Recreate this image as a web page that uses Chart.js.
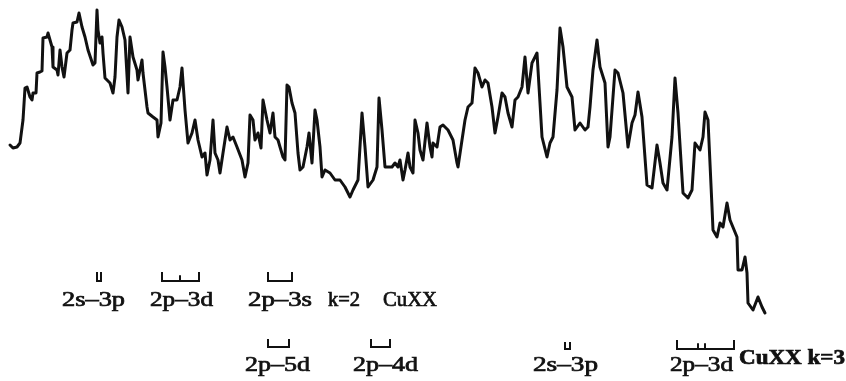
<!DOCTYPE html>
<html>
<head>
<meta charset="utf-8">
<script src="https://cdn.jsdelivr.net/npm/chart.js@4.4.1/dist/chart.umd.min.js"></script>
<style>
  html, body { margin: 0; padding: 0; background: #fff; }
  #wrap { width: 846px; height: 381px; }
</style>
</head>
<body>
<div id="wrap"><canvas id="spectrum"></canvas></div>
<script>
// densitogram trace: position along plate / blackening depth
const position = [
  10, 13, 17, 20, 23, 25, 27, 30, 32, 33, 36, 37, 40, 42, 43, 47, 48, 50, 52, 53,
  57, 58, 60, 62, 64, 67, 70, 72, 73, 77, 79, 82, 85, 88, 93, 95, 97, 98, 100, 102,
  103, 105, 110, 113, 115, 117, 119, 122, 125, 128, 130, 133, 137, 138, 142, 143, 147, 148, 153, 157,
  158, 161, 163, 165, 167, 170, 173, 177, 180, 182, 185, 188, 192, 195, 198, 202, 205, 207, 210, 213,
  215, 218, 220, 223, 227, 230, 233, 237, 242, 245, 248, 250, 253, 255, 258, 261, 263, 267, 270, 273,
  275, 278, 280, 283, 285, 287, 289, 292, 295, 298, 300, 303, 307, 309, 312, 315, 317, 320, 322, 325,
  330, 335, 340, 345, 350, 353, 358, 362, 365, 368, 373, 377, 379, 382, 385, 392, 395, 398, 400, 403,
  405, 408, 410, 413, 415, 418, 420, 423, 427, 430, 432, 433, 437, 440, 443, 448, 453, 457, 458, 462,
  465, 468, 472, 475, 478, 482, 485, 488, 492, 495, 498, 502, 505, 508, 512, 515, 518, 522, 525, 528,
  532, 537, 540, 542, 547, 550, 553, 557, 560, 563, 567, 572, 575, 580, 585, 588, 590, 593, 597, 600,
  605, 608, 610, 615, 618, 623, 628, 632, 635, 638, 642, 647, 652, 657, 660, 663, 667, 672, 675, 678,
  683, 688, 692, 695, 700, 703, 705, 708, 712, 713, 717, 720, 723, 727, 730, 737, 738, 742, 745, 747,
  748, 753, 758, 762, 765
];
const depth = [
  145, 148, 147, 143, 120, 88, 87, 97, 100, 93, 93, 73, 72, 71, 38, 37, 33, 40, 47, 67,
  70, 75, 50, 67, 77, 53, 50, 30, 23, 22, 13, 27, 37, 50, 65, 63, 10, 30, 43, 37,
  53, 78, 83, 93, 77, 37, 20, 27, 40, 93, 37, 57, 70, 80, 60, 73, 107, 113, 117, 120,
  137, 123, 52, 67, 87, 120, 100, 100, 87, 68, 110, 143, 133, 120, 140, 157, 153, 175, 160, 120,
  153, 160, 173, 153, 127, 140, 137, 147, 160, 177, 163, 115, 120, 140, 133, 148, 100, 120, 133, 113,
  137, 140, 147, 157, 160, 85, 87, 103, 113, 153, 170, 167, 147, 133, 163, 110, 120, 147, 177, 170,
  173, 180, 180, 187, 197, 190, 180, 113, 147, 187, 180, 167, 98, 130, 167, 167, 163, 167, 160, 180,
  170, 153, 167, 173, 120, 133, 150, 160, 123, 147, 157, 143, 147, 127, 125, 130, 140, 163, 167, 140,
  120, 107, 103, 68, 73, 87, 80, 83, 107, 133, 117, 93, 97, 113, 127, 100, 97, 87, 57, 93,
  63, 53, 103, 137, 157, 143, 137, 90, 28, 47, 87, 97, 130, 123, 130, 127, 107, 70, 40, 67,
  83, 147, 137, 70, 73, 93, 147, 123, 115, 92, 117, 185, 188, 145, 163, 183, 190, 137, 78, 113,
  193, 198, 190, 143, 150, 137, 112, 120, 207, 230, 237, 223, 227, 203, 220, 237, 270, 270, 257, 273,
  303, 310, 297, 307, 313
];

// line identifications under the trace
const labelText  = ["2s–3p", "2p–3d", "2p–3s", "k=2", "CuXX", "2p–5d", "2p–4d", "2s–3p", "2p–3d", "CuXX k=3"];
const labelX     = [62, 150, 248, 328, 383, 245, 353, 533, 670, 739];
const labelWidth = [63, 63, 64, 32, 54, 65, 65, 65, 63, 106];
const labelRow   = [1, 1, 1, 1, 1, 2, 2, 2, 2, 3];

const brackets = [
  { from: 97, to: 101, ticks: [], y: 281, h: 8 },
  { from: 162, to: 199, ticks: [180], y: 281, h: 8 },
  { from: 268, to: 292, ticks: [], y: 281, h: 8 },
  { from: 268, to: 289, ticks: [], y: 347, h: 7 },
  { from: 371, to: 390, ticks: [], y: 347, h: 7 },
  { from: 565, to: 570, ticks: [], y: 349, h: 6 },
  { from: 677, to: 734, ticks: [698, 705], y: 349, h: 8 }
];

const rowBaseline = { 1: 306, 2: 371, 3: 364 };

const trace = position.map((p, i) => ({ x: p, y: depth[i] }));

const annotate = {
  id: "annotate",
  afterDatasetsDraw(chart) {
    const ctx = chart.ctx;
    const xs = chart.scales.x;
    const ys = chart.scales.y;
    ctx.save();
    ctx.strokeStyle = "#111";
    ctx.fillStyle = "#111";
    ctx.lineWidth = 2;
    ctx.lineCap = "square";
    brackets.forEach(b => {
      const x1 = xs.getPixelForValue(b.from);
      const x2 = xs.getPixelForValue(b.to);
      const y = ys.getPixelForValue(b.y);
      ctx.beginPath();
      ctx.moveTo(x1, y - b.h);
      ctx.lineTo(x1, y);
      ctx.lineTo(x2, y);
      ctx.lineTo(x2, y - b.h);
      b.ticks.forEach(t => {
        const xt = xs.getPixelForValue(t);
        ctx.moveTo(xt, y);
        ctx.lineTo(xt, y - b.h * 0.6);
      });
      ctx.stroke();
    });
    ctx.textBaseline = "alphabetic";
    ctx.textAlign = "left";
    labelText.forEach((t, i) => {
      const row = labelRow[i];
      ctx.font = row === 3
        ? "bold 20px 'Liberation Serif', 'DejaVu Serif', serif"
        : "20px 'Liberation Serif', 'DejaVu Serif', serif";
      const x = xs.getPixelForValue(labelX[i]);
      const y = ys.getPixelForValue(rowBaseline[row]);
      const w = ctx.measureText(t).width;
      const target = xs.getPixelForValue(labelX[i] + labelWidth[i]) - x;
      ctx.save();
      ctx.translate(x, y);
      ctx.scale(target / w, 1);
      ctx.fillText(t, 0, 0);
      ctx.lineWidth = 0.7;
      ctx.strokeText(t, 0, 0);
      ctx.restore();
    });
    ctx.restore();
  }
};

new Chart(document.getElementById("spectrum").getContext("2d"), {
  type: "line",
  data: {
    datasets: [
      {
        data: trace,
        borderColor: "#111111",
        borderWidth: 3,
        pointRadius: 0,
        tension: 0,
        fill: false,
        borderJoinStyle: "round",
        borderCapStyle: "round"
      }
    ]
  },
  options: {
    responsive: true,
    maintainAspectRatio: false,
    animation: false,
    layout: { padding: 0 },
    plugins: {
      legend: { display: false },
      tooltip: { enabled: false }
    },
    scales: {
      x: { type: "linear", min: 0, max: 846, display: false },
      y: { min: 0, max: 381, reverse: true, display: false }
    }
  },
  plugins: [annotate]
});
</script>
</body>
</html>
